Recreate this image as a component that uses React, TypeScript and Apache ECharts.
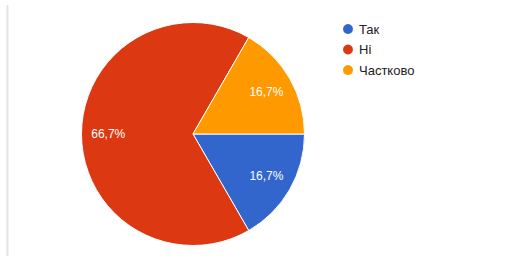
import React, { useEffect, useRef } from "react";
import * as echarts from "echarts";

const categories = ["Так", "Ні", "Частково"];
const values = [1, 4, 1];
const colors = ["#3366cc", "#dc3912", "#ff9900"];

export default function App() {
  const ref = useRef<HTMLDivElement>(null);
  useEffect(() => {
    if (!ref.current) return;
    const chart = echarts.init(ref.current, null, { renderer: "svg" });
    const data = categories.map((name, i) => ({
      name,
      value: values[i],
      itemStyle: { color: colors[i] },
    }));
    const fmt = (p: any) => p.percent.toFixed(1).replace(".", ",") + "%";
    chart.setOption({
      animation: false,
      backgroundColor: "#ffffff",
      legend: {
        orient: "vertical",
        left: 336,
        top: 17,
        icon: "circle",
        itemWidth: 12,
        itemHeight: 12,
        itemGap: 6.5,
        data: categories.map((name, i) => ({ name, itemStyle: { color: colors[i] } })),
        textStyle: { fontSize: 13, color: "#222222", fontFamily: "Arial, 'Liberation Sans', sans-serif" },
        selectedMode: false,
      },
      graphic: [
        {
          type: "line",
          shape: { x1: 7.5, y1: 5, x2: 7.5, y2: 256 },
          style: { stroke: "#e2e2e2", lineWidth: 2 },
        },
      ],
      series: [
        {
          type: "pie",
          center: [193, 134],
          radius: [0, 111.5],
          startAngle: 0,
          clockwise: true,
          data,
          label: { show: false },
          labelLine: { show: false },
          itemStyle: { borderColor: "#ffffff", borderWidth: 1 },
          emphasis: { disabled: true },
          silent: true,
        },
        {
          type: "pie",
          center: [193, 134],
          radius: [52, 111.5],
          startAngle: 0,
          clockwise: true,
          data: categories.map((name, i) => ({ name, value: values[i] })),
          itemStyle: { color: "rgba(0,0,0,0)", borderWidth: 0 },
          label: {
            show: true,
            position: "inside",
            formatter: fmt,
            color: "#ffffff",
            fontSize: 12,
            fontFamily: "Arial, 'Liberation Sans', sans-serif",
          },
          labelLine: { show: false },
          emphasis: { disabled: true },
          silent: true,
          legendHoverLink: false,
        },
      ],
    });
    return () => chart.dispose();
  }, []);
  return (
    <div
      ref={ref}
      style={{ position: "fixed", left: 0, top: 0, width: 515, height: 269 }}
    />
  );
}
